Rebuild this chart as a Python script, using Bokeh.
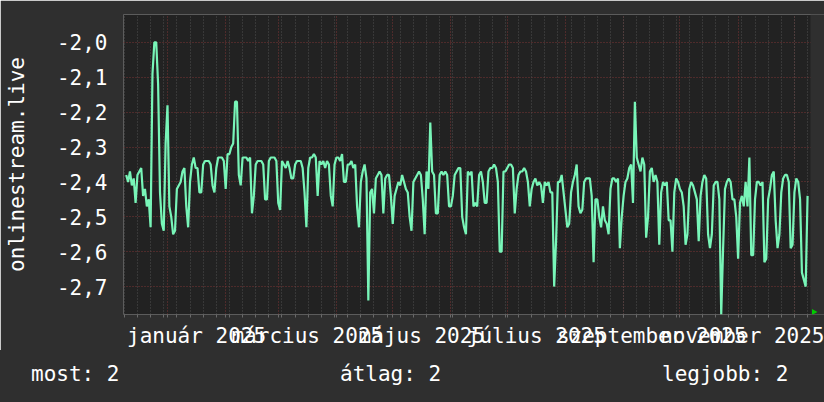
import datetime as dt
from bokeh.plotting import figure
from bokeh.layouts import column
from bokeh.models import FixedTicker, Range1d, Grid, PolyAnnotation, Div
from bokeh.embed import file_html
from bokeh.resources import INLINE

# ---------------- data (daily values) ----------------
FIRST_DAY = dt.datetime(2024, 12, 10)

dec_2024 = [-2.38, -2.40, -2.37, -2.41, -2.39, -2.46, -2.38, -2.37, -2.36, -2.44, -2.42,
            -2.47, -2.45, -2.53, -2.09, -2.00, -2.00, -2.12, -2.43, -2.52, -2.54, -2.29]
jan_2025 = [-2.18, -2.47, -2.50, -2.55, -2.54, -2.42, -2.41, -2.40, -2.37, -2.36, -2.47,
            -2.53, -2.40, -2.35, -2.33, -2.36, -2.36, -2.43, -2.43, -2.35, -2.34, -2.34,
            -2.34, -2.35, -2.41, -2.43, -2.36, -2.33, -2.33, -2.33, -2.34]
feb_2025 = [-2.42, -2.32, -2.32, -2.30, -2.29, -2.17, -2.17, -2.38, -2.41, -2.33, -2.33,
            -2.33, -2.34, -2.33, -2.49, -2.44, -2.35, -2.34, -2.34, -2.34, -2.35, -2.45,
            -2.45, -2.34, -2.33, -2.33, -2.33, -2.34]
mar_2025 = [-2.46, -2.48, -2.34, -2.35, -2.36, -2.34, -2.36, -2.39, -2.39, -2.35, -2.34,
            -2.34, -2.34, -2.36, -2.43, -2.53, -2.36, -2.33, -2.33, -2.32, -2.33, -2.44,
            -2.34, -2.35, -2.34, -2.36, -2.34, -2.35, -2.44, -2.47, -2.35]
apr_2025 = [-2.33, -2.33, -2.34, -2.32, -2.40, -2.40, -2.35, -2.35, -2.34, -2.36, -2.35,
            -2.47, -2.53, -2.40, -2.37, -2.35, -2.39, -2.74, -2.43, -2.42, -2.49, -2.39,
            -2.38, -2.37, -2.38, -2.49, -2.39, -2.38, -2.38, -2.44]
may_2025 = [-2.52, -2.44, -2.42, -2.40, -2.41, -2.38, -2.40, -2.42, -2.43, -2.50, -2.54,
            -2.40, -2.39, -2.38, -2.37, -2.38, -2.45, -2.55, -2.37, -2.42, -2.23, -2.37,
            -2.38, -2.49, -2.49, -2.38, -2.37, -2.38, -2.37, -2.38, -2.47]
jun_2025 = [-2.47, -2.44, -2.38, -2.37, -2.36, -2.36, -2.50, -2.53, -2.55, -2.37, -2.38,
            -2.37, -2.47, -2.46, -2.47, -2.38, -2.37, -2.40, -2.46, -2.46, -2.37, -2.36,
            -2.36, -2.35, -2.36, -2.40, -2.60, -2.60, -2.37, -2.37]
jul_2025 = [-2.36, -2.35, -2.35, -2.36, -2.49, -2.42, -2.38, -2.37, -2.37, -2.36, -2.37,
            -2.40, -2.47, -2.42, -2.40, -2.39, -2.41, -2.40, -2.41, -2.46, -2.40, -2.41,
            -2.40, -2.43, -2.43, -2.70, -2.57, -2.40, -2.40, -2.38, -2.43]
aug_2025 = [-2.48, -2.53, -2.52, -2.43, -2.40, -2.38, -2.35, -2.47, -2.49, -2.48, -2.40,
            -2.39, -2.39, -2.39, -2.44, -2.63, -2.45, -2.45, -2.50, -2.53, -2.47, -2.51,
            -2.52, -2.55, -2.42, -2.39, -2.39, -2.40, -2.39, -2.59, -2.50]
sep_2025 = [-2.44, -2.40, -2.39, -2.36, -2.35, -2.46, -2.17, -2.33, -2.35, -2.37, -2.33,
            -2.35, -2.56, -2.50, -2.37, -2.36, -2.40, -2.38, -2.40, -2.58, -2.43, -2.40,
            -2.41, -2.40, -2.51, -2.51, -2.60, -2.43, -2.39, -2.40]
oct_2025 = [-2.42, -2.43, -2.47, -2.58, -2.55, -2.42, -2.40, -2.41, -2.43, -2.45, -2.57,
            -2.44, -2.40, -2.38, -2.39, -2.55, -2.59, -2.55, -2.41, -2.40, -2.40, -2.45,
            -2.78, -2.59, -2.42, -2.40, -2.39, -2.40, -2.45, -2.45, -2.50]
nov_2025 = [-2.62, -2.46, -2.44, -2.47, -2.40, -2.47, -2.33, -2.61, -2.61, -2.45, -2.40,
            -2.40, -2.41, -2.40, -2.63, -2.62, -2.45, -2.42, -2.38, -2.37, -2.51, -2.59,
            -2.55, -2.43, -2.39, -2.38, -2.38, -2.40, -2.59, -2.58]
dec_2025 = [-2.43, -2.39, -2.40, -2.45, -2.66, -2.68, -2.70, -2.44]

values = (dec_2024 + jan_2025 + feb_2025 + mar_2025 + apr_2025 + may_2025 + jun_2025
          + jul_2025 + aug_2025 + sep_2025 + oct_2025 + nov_2025 + dec_2025)
dates = [FIRST_DAY + dt.timedelta(days=i) for i in range(len(values))]

YEAR = 2025
label_months = [1, 3, 5, 7, 9, 11]
month_names = ["január", "március", "május", "július", "szeptember", "november"]
y_ticks = [-2.7, -2.6, -2.5, -2.4, -2.3, -2.2, -2.1, -2.0]
y_tick_labels = ["-2,7", "-2,6", "-2,5", "-2,4", "-2,3", "-2,2", "-2,1", "-2,0"]
y_title = "onlinestream.live"
legend_texts = ["most: 2", "átlag: 2", "legjobb: 2"]

X_START = dt.datetime(2024, 12, 8, 13, 30)
X_END = dt.datetime(2025, 12, 9, 13, 30)
Y_BOTTOM, Y_TOP = -2.78, -1.92

# ---------------- helpers ----------------
EPOCH = dt.datetime(1970, 1, 1)
def ms(d):
    return (d - EPOCH).total_seconds() * 1000.0

month_starts_ms = [ms(dt.datetime(2025, m, 1)) for m in range(1, 13)]

mid_ticks = []
overrides = {}
for m, name in zip(label_months, month_names):
    a = dt.datetime(YEAR, m, 1)
    b = dt.datetime(YEAR, m + 1, 1) if m < 12 else dt.datetime(YEAR + 1, 1, 1)
    t = (ms(a) + ms(b)) / 2.0
    mid_ticks.append(t)
    overrides[t] = f"{name} {YEAR}"

mondays = []
d = dt.datetime(2024, 12, 9)
while d < X_END:
    mondays.append(ms(d))
    d += dt.timedelta(days=7)

FONT = "DejaVu Sans Mono"
FS = "21px"
OUTER = "#2f2f2f"
INNER = "#222222"
LINE = "#78f5b8"
GRID_RED = "#7a3434"
ARROW = "#00cc00"

W, H = 824, 350          # main chart
H2 = 52                  # strip with the summary texts
BL, BT, BR_PAD, BB = 123, 14, 14, 35
FW = W - BL - BR_PAD     # visible plot width (687)
FH = H - BB - BT         # plot height (301)

# frame is stretched to the right canvas edge; that extra band is painted over
x0, x1 = ms(X_START), ms(X_END)
ms_per_px = (x1 - x0) / FW
val_per_px = (Y_TOP - Y_BOTTOM) / FH
x1_ext = x1 + BR_PAD * ms_per_px

p = figure(width=W, height=H, x_axis_type="datetime", output_backend="svg",
           toolbar_location=None, x_range=Range1d(x0, x1_ext),
           y_range=Range1d(Y_BOTTOM, Y_TOP),
           min_border_left=BL, min_border_right=0, min_border_top=BT, min_border_bottom=BB)
p.background_fill_color = INNER
p.border_fill_color = OUTER
p.outline_line_color = None

# grids
p.xgrid.ticker = FixedTicker(ticks=month_starts_ms)
p.xgrid.grid_line_color = GRID_RED
p.xgrid.grid_line_dash = "1 2"
p.ygrid.ticker = FixedTicker(ticks=y_ticks)
p.ygrid.grid_line_color = GRID_RED
p.ygrid.grid_line_dash = "1 2"
week_grid = Grid(dimension=0, ticker=FixedTicker(ticks=mondays),
                 grid_line_color="#4e4e4e", grid_line_dash="1 2")
p.add_layout(week_grid)

# x axis
xa = p.xaxis[0]
xa.ticker = FixedTicker(ticks=mid_ticks, minor_ticks=sorted(mondays + month_starts_ms))
xa.major_label_overrides = overrides
xa.major_tick_line_color = None
xa.major_tick_out = 0
xa.major_tick_in = 0
xa.minor_tick_line_color = "#6a6a6a"
xa.minor_tick_out = 3
xa.minor_tick_in = 0
xa.axis_line_color = None
xa.major_label_text_font = FONT
xa.major_label_text_font_size = FS
xa.major_label_text_color = "white"
xa.major_label_standoff = 6

# y axis
ya = p.yaxis[0]
ya.ticker = FixedTicker(ticks=y_ticks)
ya.major_label_overrides = dict(zip(y_ticks, y_tick_labels))
ya.major_tick_line_color = None
ya.major_tick_out = 0
ya.major_tick_in = 0
ya.minor_tick_line_color = None
ya.axis_line_color = None
ya.major_label_text_font = FONT
ya.major_label_text_font_size = FS
ya.major_label_text_color = "white"
ya.major_label_standoff = 16
ya.axis_label = y_title
ya.axis_label_text_font = FONT
ya.axis_label_text_font_size = FS
ya.axis_label_text_font_style = "normal"
ya.axis_label_text_color = "white"
ya.axis_label_text_line_height = 0.9
ya.axis_label_standoff = 25

# the series
p.line(dates, values, line_color=LINE, line_width=2.2)

# mask over the stretched band on the right of the plot area
p.quad(left=[x1], right=[x1_ext], bottom=[Y_BOTTOM], top=[Y_TOP],
       fill_color=OUTER, fill_alpha=1.0, line_color=None)

# green arrow at the end of the time axis
def sx(dx):
    return x0 + dx * ms_per_px
def sy(dy):
    return Y_BOTTOM + dy * val_per_px
p.add_layout(PolyAnnotation(xs=[sx(FW + 1.5), sx(FW + 7), sx(FW + 1.5)],
                            ys=[sy(5.5), sy(2.5), sy(-0.5)],
                            fill_color=ARROW, fill_alpha=1.0, line_color=None,
                            level="overlay"))

# strip with the summary texts
span_w = [309, 322, 150]
spans = "".join(
    f'<span style="display:inline-block;width:{w}px">{t}</span>'
    for t, w in zip(legend_texts, span_w))
html = (f'<div style="white-space:nowrap;font-family:\'{FONT}\';font-size:{FS};'
        f'line-height:21px;color:white;padding:14px 0 0 31px;margin:0">{spans}</div>')
strip = Div(text=html, width=W, height=H2,
            styles={"background-color": OUTER, "margin": "0", "padding": "0",
                    "overflow": "hidden"})

page = column(p, strip, spacing=0)
open("out.html", "w").write(file_html(page, INLINE))
